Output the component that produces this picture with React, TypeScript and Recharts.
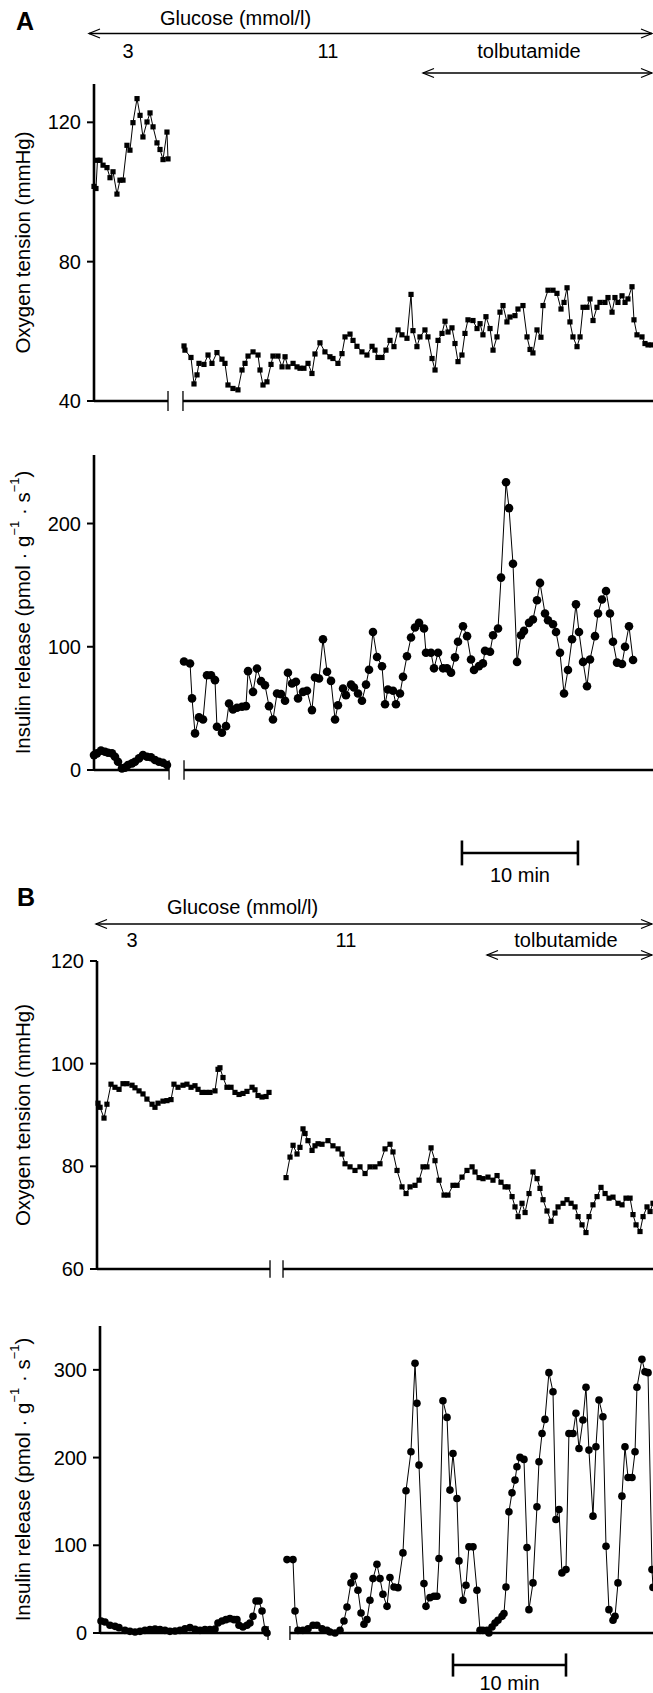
import React from 'react';
import { LineChart, Line, XAxis, YAxis, ReferenceLine } from 'recharts';

const FONT = '"Liberation Sans", Arial, Helvetica, sans-serif';

// ---------- Panel A: oxygen tension (mmHg), time in min ----------
const A_O2_T1 = [0, 0.17, 0.3, 0.52, 0.78, 1.12, 1.38, 1.64, 1.98, 2.24, 2.5, 2.84, 3.1, 3.36, 3.71, 3.97, 4.22, 4.57, 4.83, 5.09, 5.43, 5.69, 5.95, 6.29, 6.38];
const A_O2_V1 = [101.6, 101.0, 109.1, 109.1, 107.7, 107.0, 104.1, 105.8, 99.4, 103.4, 103.4, 113.4, 112.0, 119.9, 126.8, 122.0, 115.8, 120.1, 122.7, 118.7, 114.1, 112.2, 109.3, 117.2, 109.5];
const A_O2_T2 = [7.76, 7.84, 8.36, 8.62, 8.88, 9.05, 9.48, 9.83, 10.17, 10.6, 11.03, 11.29, 11.55, 11.98, 12.41, 12.76, 13.02, 13.28, 13.71, 14.14, 14.31, 14.57, 14.91, 15.26, 15.43, 15.86, 16.21, 16.47, 16.72, 17.16, 17.5, 17.76, 18.1, 18.45, 18.79, 19.05, 19.48, 19.91, 20.34, 20.6, 21.03, 21.38, 21.64, 22.07, 22.33, 22.67, 23.1, 23.53, 23.97, 24.22, 24.48, 24.83, 25.17, 25.52, 25.86, 26.21, 26.55, 26.98, 27.33, 27.5, 27.84, 28.1, 28.53, 28.79, 29.14, 29.4, 29.66, 30.0, 30.26, 30.52, 30.86, 31.12, 31.38, 31.72, 31.98, 32.24, 32.67, 33.02, 33.28, 33.53, 33.79, 34.14, 34.4, 34.74, 35.0, 35.26, 35.6, 35.86, 36.29, 36.55, 36.98, 37.33, 37.59, 37.84, 38.19, 38.53, 38.71, 39.14, 39.57, 39.91, 40.26, 40.52, 40.78, 41.03, 41.29, 41.64, 41.9, 42.16, 42.5, 42.76, 43.02, 43.36, 43.62, 44.05, 44.31, 44.66, 44.91, 45.17, 45.52, 45.78, 46.03, 46.38, 46.55, 46.81, 47.24, 47.5, 47.76, 48.1];
const A_O2_V2 = [55.8, 54.6, 52.5, 44.9, 47.5, 50.8, 50.5, 53.2, 50.8, 53.9, 52.0, 50.8, 44.6, 43.6, 43.2, 48.9, 50.8, 52.9, 54.1, 53.2, 48.9, 44.6, 45.5, 50.5, 52.9, 52.9, 49.8, 52.7, 49.8, 50.8, 49.8, 49.4, 49.4, 50.8, 47.9, 53.5, 56.7, 54.1, 52.7, 52.2, 50.8, 53.6, 58.4, 59.2, 57.4, 55.7, 54.1, 53.2, 55.7, 54.6, 52.5, 52.5, 54.6, 57.4, 55.6, 60.4, 59.0, 58.0, 70.6, 60.2, 55.6, 58.4, 60.4, 58.4, 52.2, 48.9, 57.4, 59.4, 62.9, 59.8, 61.0, 56.5, 51.3, 53.2, 59.4, 63.3, 63.1, 60.8, 62.2, 59.0, 64.2, 60.8, 54.6, 58.4, 65.5, 67.4, 62.7, 64.1, 64.5, 66.4, 67.4, 58.4, 54.8, 53.8, 60.4, 58.3, 67.4, 71.8, 71.8, 70.9, 66.4, 68.3, 72.5, 62.7, 58.4, 55.6, 58.4, 66.9, 66.9, 69.3, 63.1, 66.9, 68.3, 68.3, 69.7, 65.5, 69.7, 68.3, 70.2, 68.3, 69.3, 72.8, 63.3, 59.0, 58.4, 56.5, 56.1, 56.1];

// ---------- Panel A: insulin release (pmol·g-1·s-1) ----------
const A_INS_T1 = [0, 0.26, 0.6, 0.95, 1.21, 1.55, 1.81, 2.07, 2.41, 2.67, 2.93, 3.28, 3.53, 3.88, 4.22, 4.57, 4.91, 5.26, 5.6, 5.95, 6.29];
const A_INS_V1 = [12.1, 13.5, 15.7, 14.8, 14.0, 13.5, 10.8, 6.7, 1.3, 1.9, 4.0, 5.4, 6.7, 9.4, 12.1, 10.8, 10.3, 8.1, 6.7, 5.9, 4.0];
const A_INS_T2 = [7.76, 8.28, 8.45, 8.71, 9.05, 9.4, 9.74, 10.09, 10.43, 10.6, 11.03, 11.38, 11.64, 11.98, 12.33, 12.76, 13.1, 13.28, 13.71, 14.05, 14.4, 14.74, 15.09, 15.43, 15.78, 16.12, 16.47, 16.72, 17.07, 17.41, 17.59, 18.02, 18.36, 18.79, 19.05, 19.4, 19.74, 20.09, 20.43, 20.78, 21.03, 21.47, 21.72, 22.16, 22.41, 22.76, 23.1, 23.45, 23.71, 24.05, 24.4, 24.83, 25.09, 25.34, 25.78, 26.03, 26.38, 26.64, 26.98, 27.33, 27.67, 28.02, 28.45, 28.62, 29.05, 29.31, 29.66, 30.09, 30.43, 30.78, 31.12, 31.38, 31.81, 32.16, 32.5, 32.76, 33.19, 33.53, 33.71, 34.14, 34.4, 34.83, 35.09, 35.52, 35.78, 36.12, 36.47, 36.81, 37.07, 37.5, 37.84, 38.19, 38.45, 38.88, 39.14, 39.57, 39.83, 40.17, 40.52, 40.86, 41.21, 41.55, 41.81, 42.16, 42.5, 42.76, 43.19, 43.45, 43.79, 44.14, 44.48, 44.74, 45.09, 45.52, 45.78, 46.12, 46.47];
const A_INS_V2 = [88, 86.4, 58.1, 29.7, 42.7, 41.0, 76.9, 76.9, 72.9, 35.1, 30.2, 35.6, 54.0, 49.1, 50.5, 51.3, 51.8, 80.2, 63.4, 82.3, 72.1, 68.8, 51.8, 41.0, 62.1, 61.6, 56.2, 78.9, 70.2, 71.6, 58.1, 63.4, 64.3, 48.6, 75.1, 74.2, 106.1, 79.7, 72.3, 41.0, 52.6, 66.1, 60.7, 69.3, 66.9, 62.1, 56.2, 69.3, 81.4, 112.0, 91.7, 84.2, 53.4, 65.3, 64.3, 53.4, 62.1, 75.6, 92.3, 107.5, 115.6, 119.4, 114.8, 95.1, 95.1, 82.5, 95.1, 82.5, 82.5, 79.0, 91.4, 104.1, 116.7, 108.6, 89.7, 81.1, 84.3, 86.5, 96.7, 95.9, 109.4, 114.8, 156.1, 233.5, 212.5, 167.4, 87.7, 109.4, 112.9, 119.4, 122.1, 137.7, 151.8, 127.0, 121.5, 118.3, 112.0, 95.1, 62.1, 81.1, 106.1, 134.4, 112.0, 87.7, 68.0, 89.7, 108.6, 127.0, 138.3, 145.3, 127.0, 104.1, 87.1, 86.0, 100.0, 116.7, 89.2];

// ---------- Panel B: oxygen tension ----------
const B_O2_T1 = [0.09, 0.27, 0.62, 0.88, 1.24, 1.59, 1.95, 2.3, 2.65, 3.1, 3.36, 3.72, 4.07, 4.42, 4.87, 5.13, 5.4, 5.84, 6.19, 6.55, 6.81, 7.17, 7.61, 7.96, 8.32, 8.67, 8.94, 9.29, 9.65, 10.0, 10.44, 10.71, 10.88, 11.15, 11.5, 11.86, 12.21, 12.57, 12.92, 13.27, 13.72, 13.98, 14.25, 14.6, 14.96, 15.22];
const B_O2_V1 = [92.3, 91.5, 89.4, 92.1, 96.0, 95.4, 95.0, 96.1, 96.1, 95.8, 95.3, 94.7, 94.1, 93.1, 92.1, 91.5, 92.3, 92.7, 92.8, 93.0, 96.0, 95.4, 95.8, 96.0, 95.4, 95.7, 95.0, 94.4, 94.4, 94.4, 94.7, 98.9, 99.2, 97.3, 95.4, 95.4, 94.4, 94.0, 94.2, 94.6, 95.4, 94.9, 93.8, 93.5, 93.6, 94.4];
const B_O2_T2 = [16.73, 17.08, 17.35, 17.7, 17.96, 18.23, 18.41, 18.67, 19.03, 19.29, 19.56, 19.91, 20.44, 20.88, 21.33, 21.68, 21.95, 22.39, 22.83, 23.27, 23.72, 24.16, 24.6, 25.04, 25.49, 25.93, 26.19, 26.55, 26.99, 27.35, 27.7, 28.14, 28.5, 28.85, 29.2, 29.56, 29.91, 30.27, 30.71, 31.06, 31.5, 31.86, 32.3, 32.74, 33.19, 33.45, 33.81, 34.16, 34.6, 35.04, 35.4, 35.75, 36.11, 36.37, 36.73, 36.99, 37.26, 37.61, 37.88, 38.23, 38.58, 38.94, 39.2, 39.47, 39.82, 40.18, 40.53, 40.8, 41.24, 41.59, 41.95, 42.3, 42.57, 42.92, 43.27, 43.54, 43.89, 44.25, 44.6, 44.96, 45.31, 45.66, 46.11, 46.46, 46.81, 47.17, 47.43, 47.7, 48.05, 48.32, 48.67, 48.94, 49.2];
const B_O2_V2 = [77.8, 81.8, 84.1, 82.4, 83.7, 87.3, 86.4, 85.0, 83.1, 84.0, 84.4, 84.3, 85.0, 84.0, 83.4, 82.4, 80.5, 79.9, 79.2, 79.9, 78.6, 79.9, 79.9, 80.5, 83.4, 84.3, 82.8, 79.2, 76.0, 74.7, 76.0, 76.3, 77.3, 79.9, 79.9, 83.6, 81.1, 77.3, 74.4, 74.4, 76.3, 76.3, 77.9, 79.2, 79.9, 78.9, 77.8, 77.6, 77.9, 77.3, 78.2, 76.9, 76.0, 76.0, 74.1, 72.1, 70.2, 72.8, 71.0, 74.7, 78.9, 77.6, 75.7, 73.5, 71.3, 69.3, 70.9, 72.1, 72.8, 73.5, 72.8, 72.1, 70.2, 68.6, 67.1, 70.2, 72.5, 74.1, 75.9, 74.7, 73.8, 74.0, 72.8, 72.5, 73.8, 73.8, 70.6, 68.6, 67.3, 70.2, 72.1, 71.2, 72.8];

// ---------- Panel B: insulin release ----------
const B_INS_T1 = [0.09, 0.44, 0.88, 1.33, 1.68, 2.21, 2.65, 3.1, 3.54, 3.98, 4.42, 4.87, 5.31, 5.75, 6.19, 6.64, 7.08, 7.52, 7.96, 8.41, 8.85, 9.29, 9.73, 10.18, 10.44, 10.8, 11.15, 11.5, 11.86, 12.12, 12.3, 12.65, 13.01, 13.27, 13.54, 13.81, 14.07, 14.34, 14.6, 14.78];
const B_INS_V1 = [13.7, 12.6, 8.8, 7.6, 6.1, 3.0, 1.9, 1.1, 1.9, 3.0, 3.8, 4.6, 3.8, 3.0, 1.9, 2.3, 3.0, 4.9, 6.1, 4.2, 3.0, 3.8, 3.8, 4.6, 11.4, 13.7, 15.2, 16.4, 15.2, 15.2, 8.8, 6.8, 8.8, 11.4, 19.0, 36.5, 36.5, 25.1, 3.8, 0];
const B_INS_T2 = [16.55, 17.08, 17.26, 17.52, 17.96, 18.41, 18.85, 19.2, 19.65, 20.09, 20.35, 20.8, 21.24, 21.59, 21.86, 22.21, 22.48, 22.83, 23.1, 23.36, 23.63, 23.89, 24.16, 24.51, 24.78, 25.04, 25.4, 25.66, 26.02, 26.37, 26.81, 27.08, 27.52, 27.88, 28.05, 28.23, 28.67, 28.85, 29.2, 29.56, 29.82, 30.0, 30.35, 30.71, 30.97, 31.24, 31.59, 31.77, 32.12, 32.39, 32.65, 33.01, 33.36, 33.63, 33.89, 34.25, 34.42, 34.69, 34.96, 35.22, 35.58, 35.75, 35.93, 36.19, 36.46, 36.73, 36.9, 37.17, 37.52, 37.79, 37.96, 38.32, 38.67, 38.85, 39.12, 39.38, 39.73, 40.09, 40.35, 40.62, 40.88, 41.24, 41.5, 41.86, 42.12, 42.39, 42.74, 43.01, 43.27, 43.63, 43.89, 44.16, 44.51, 44.78, 45.04, 45.4, 45.58, 45.84, 46.19, 46.46, 46.73, 47.08, 47.35, 47.52, 47.96, 48.23, 48.5, 48.85, 48.94];
const B_INS_V2 = [83.7, 83.7, 25.1, 3.0, 3.0, 4.9, 8.8, 8.8, 4.9, 3.0, 1.1, 0, 3.0, 13.7, 29.7, 57.1, 64.7, 48.7, 22.8, 9.9, 15.2, 37.3, 62.0, 78.4, 62.0, 44.1, 30.4, 63.2, 52.5, 51.7, 91.3, 162.1, 206.6, 307.5, 261.8, 191.4, 56.3, 30.4, 40.3, 41.9, 41.9, 84.9, 264.8, 245.8, 162.9, 204.7, 153.3, 82.2, 37.3, 54.4, 98.2, 98.2, 48.7, 3.0, 3.0, 3.0, 0, 6.8, 11.4, 14.5, 19.0, 22.1, 52.5, 138.1, 159.8, 174.3, 189.5, 200.2, 197.9, 97.4, 26.6, 57.1, 143.8, 195.2, 227.5, 243.5, 296.8, 275.1, 129.4, 140.8, 68.5, 72.3, 227.5, 227.5, 250.4, 210.4, 242.8, 280.1, 208.5, 133.2, 212.3, 265.6, 246.6, 98.9, 26.6, 14.5, 19.0, 57.1, 156.0, 212.3, 177.3, 177.3, 206.6, 280.1, 312.0, 297.9, 296.8, 72.3, 52];

// axis ticks
const A_O2_TICKS = [40, 80, 120];
const A_INS_TICKS = [0, 100, 200];
const B_O2_TICKS = [60, 80, 100, 120];
const B_INS_TICKS = [0, 100, 200, 300];

const zip = (t: number[], v: number[]) =>
  t.slice(0, Math.min(t.length, v.length)).map((x, i) => ({ t: x, v: v[i] }));

const squareDot = (p: any) => {
  if (p.cx == null || p.cy == null) return <g key={`e${p.index}`} />;
  return <rect key={`s${p.index}`} x={p.cx - 2.6} y={p.cy - 2.6} width={5.2} height={5.2} fill="#000" />;
};
const roundDotA = (p: any) => {
  if (p.cx == null || p.cy == null) return <g key={`e${p.index}`} />;
  return <circle key={`c${p.index}`} cx={p.cx} cy={p.cy} r={4.3} fill="#000" />;
};
const roundDotB = (p: any) => {
  if (p.cx == null || p.cy == null) return <g key={`e${p.index}`} />;
  return <circle key={`c${p.index}`} cx={p.cx} cy={p.cy} r={3.8} fill="#000" />;
};

function YTitle(props: any) {
  const vb = props.viewBox || {};
  const cy = (vb.y ?? 0) + (vb.height ?? 0) / 2;
  const cx = (vb.x ?? 0) + 22;
  const common = {
    x: cx,
    y: cy,
    transform: `rotate(-90, ${cx}, ${cy})`,
    textAnchor: 'middle' as const,
    dominantBaseline: 'central' as const,
    fill: '#000',
    fontSize: 20.5,
    fontFamily: FONT,
  };
  if (props.kind === 'o2') {
    return <text {...common}>Oxygen tension (mmHg)</text>;
  }
  return (
    <text {...common}>
      <tspan>Insulin release (pmol · g</tspan>
      <tspan dy={-8} fontSize={13}>−1</tspan>
      <tspan dy={8}> · s</tspan>
      <tspan dy={-8} fontSize={13}>−1</tspan>
      <tspan dy={8}>)</tspan>
    </text>
  );
}

type ScaleBar = { t1: number; t2: number; y: number; half: number; offset: number };

type PanelProps = {
  top: number;
  height: number;
  mTop: number;
  mBottom: number;
  axisW: number;
  xMax: number;
  yDomain: [number, number];
  yTicks: number[];
  kind: 'o2' | 'ins';
  series: { t: number; v: number }[][];
  dot: any;
  axisSegs: [number, number][];
  breaks: number[];
  breakHalf: number;
  scaleBar?: ScaleBar;
};

function Panel(p: PanelProps) {
  const y0 = p.yDomain[0];
  return (
    <div style={{ position: 'absolute', left: 0, top: p.top }}>
      <LineChart width={653} height={p.height} margin={{ top: p.mTop, right: 0, bottom: p.mBottom, left: 0 }}>
        <XAxis type="number" dataKey="t" domain={[0, p.xMax]} hide height={0} />
        <YAxis
          type="number"
          domain={p.yDomain}
          ticks={p.yTicks}
          interval={0}
          width={p.axisW}
          axisLine={{ stroke: '#000', strokeWidth: 2.6 }}
          tickLine={{ stroke: '#000', strokeWidth: 2 }}
          tickSize={7}
          tickMargin={6}
          tick={{ fill: '#000', fontSize: 20, fontFamily: FONT }}
          label={<YTitle kind={p.kind} />}
        />
        {p.axisSegs.map(([a, b], i) => (
          <ReferenceLine
            key={`ax${i}`}
            segment={[{ x: a, y: y0 }, { x: b, y: y0 }]}
            stroke="#000"
            strokeWidth={2.6}
            ifOverflow="visible"
          />
        ))}
        {p.breaks.map((b, i) => (
          <ReferenceLine
            key={`br${i}`}
            segment={[{ x: b, y: y0 - p.breakHalf }, { x: b, y: y0 + p.breakHalf }]}
            stroke="#000"
            strokeWidth={1.3}
            ifOverflow="visible"
          />
        ))}
        {p.scaleBar && (
          <ReferenceLine
            segment={[{ x: p.scaleBar.t1, y: p.scaleBar.y }, { x: p.scaleBar.t2, y: p.scaleBar.y }]}
            stroke="#000"
            strokeWidth={2.6}
            ifOverflow="visible"
            label={{ value: '10 min', position: 'bottom', offset: p.scaleBar.offset, fill: '#000', fontSize: 20, fontFamily: FONT }}
          />
        )}
        {p.scaleBar && (
          <ReferenceLine
            segment={[{ x: p.scaleBar.t1, y: p.scaleBar.y - p.scaleBar.half }, { x: p.scaleBar.t1, y: p.scaleBar.y + p.scaleBar.half }]}
            stroke="#000"
            strokeWidth={2.6}
            ifOverflow="visible"
          />
        )}
        {p.scaleBar && (
          <ReferenceLine
            segment={[{ x: p.scaleBar.t2, y: p.scaleBar.y - p.scaleBar.half }, { x: p.scaleBar.t2, y: p.scaleBar.y + p.scaleBar.half }]}
            stroke="#000"
            strokeWidth={2.6}
            ifOverflow="visible"
          />
        )}
        {p.series.map((d, i) => (
          <Line
            key={`s${i}`}
            data={d}
            dataKey="v"
            type="linear"
            stroke="#000"
            strokeWidth={1}
            dot={p.dot}
            activeDot={false}
            isAnimationActive={false}
            legendType="none"
          />
        ))}
      </LineChart>
    </div>
  );
}

function DoubleArrow({ x1, x2, y }: { x1: number; x2: number; y: number }) {
  const h = 11;
  const w = 4.5;
  return (
    <g stroke="#000" strokeWidth={1.3} fill="none">
      <line x1={x1} y1={y} x2={x2} y2={y} />
      <polyline points={`${x1 + h},${y - w} ${x1},${y} ${x1 + h},${y + w}`} />
      <polyline points={`${x2 - h},${y - w} ${x2},${y} ${x2 - h},${y + w}`} />
    </g>
  );
}

const txt = { fill: '#000', fontSize: 20, fontFamily: FONT };

export default function App() {
  return (
    <div style={{ position: 'absolute', left: 0, top: 0, width: 653, height: 1693, background: '#fff', overflow: 'hidden' }}>
      <svg width={653} height={1693} style={{ position: 'absolute', left: 0, top: 0 }}>
        {/* Panel A header */}
        <text x={25} y={30} textAnchor="middle" fontWeight="bold" fontSize={25} fontFamily={FONT} fill="#000">A</text>
        <text x={160} y={25} {...txt}>Glucose (mmol/l)</text>
        <DoubleArrow x1={89} x2={652} y={33.5} />
        <text x={128} y={58} textAnchor="middle" {...txt}>3</text>
        <text x={328} y={58} textAnchor="middle" {...txt}>11</text>
        <text x={529} y={58} textAnchor="middle" {...txt}>tolbutamide</text>
        <DoubleArrow x1={423} x2={652} y={73} />
        {/* Panel B header */}
        <text x={26} y={906} textAnchor="middle" fontWeight="bold" fontSize={25} fontFamily={FONT} fill="#000">B</text>
        <text x={167} y={914} {...txt}>Glucose (mmol/l)</text>
        <DoubleArrow x1={96} x2={652} y={924} />
        <text x={132} y={947} textAnchor="middle" {...txt}>3</text>
        <text x={346} y={947} textAnchor="middle" {...txt}>11</text>
        <text x={566} y={947} textAnchor="middle" {...txt}>tolbutamide</text>
        <DoubleArrow x1={487} x2={652} y={955} />
      </svg>

      <Panel
        top={74}
        height={345}
        mTop={10}
        mBottom={18}
        axisW={94}
        xMax={48.19}
        yDomain={[40, 131]}
        yTicks={A_O2_TICKS}
        kind="o2"
        series={[zip(A_O2_T1, A_O2_V1), zip(A_O2_T2, A_O2_V2)]}
        dot={squareDot}
        axisSegs={[[0, 6.38], [7.67, 48.19]]}
        breaks={[6.38, 7.67]}
        breakHalf={2.9}
      />
      <Panel
        top={440}
        height={455}
        mTop={15}
        mBottom={125}
        axisW={94}
        xMax={48.19}
        yDomain={[0, 255.6]}
        yTicks={A_INS_TICKS}
        kind="ins"
        series={[zip(A_INS_T1, A_INS_V1), zip(A_INS_T2, A_INS_V2)]}
        dot={roundDotA}
        axisSegs={[[0, 6.47], [7.76, 48.19]]}
        breaks={[6.47, 7.76]}
        breakHalf={8}
        scaleBar={{ t1: 31.72, t2: 41.72, y: -67.3, half: 10.1, offset: 15 }}
      />
      <Panel
        top={950}
        height={340}
        mTop={11}
        mBottom={21}
        axisW={97}
        xMax={49.2}
        yDomain={[60, 120]}
        yTicks={B_O2_TICKS}
        kind="o2"
        series={[zip(B_O2_T1, B_O2_V1), zip(B_O2_T2, B_O2_V2)]}
        dot={squareDot}
        axisSegs={[[0, 15.31], [16.46, 49.2]]}
        breaks={[15.31, 16.46]}
        breakHalf={1.7}
      />
      <Panel
        top={1300}
        height={393}
        mTop={26}
        mBottom={60}
        axisW={100}
        xMax={48.94}
        yDomain={[0, 350]}
        yTicks={B_INS_TICKS}
        kind="ins"
        series={[zip(B_INS_T1, B_INS_V1), zip(B_INS_T2, B_INS_V2)]}
        dot={roundDotB}
        axisSegs={[[0, 14.87], [16.81, 48.94]]}
        breaks={[14.87, 16.81]}
        breakHalf={8}
        scaleBar={{ t1: 31.24, t2: 41.24, y: -36.5, half: 13.2, offset: 11 }}
      />
    </div>
  );
}
